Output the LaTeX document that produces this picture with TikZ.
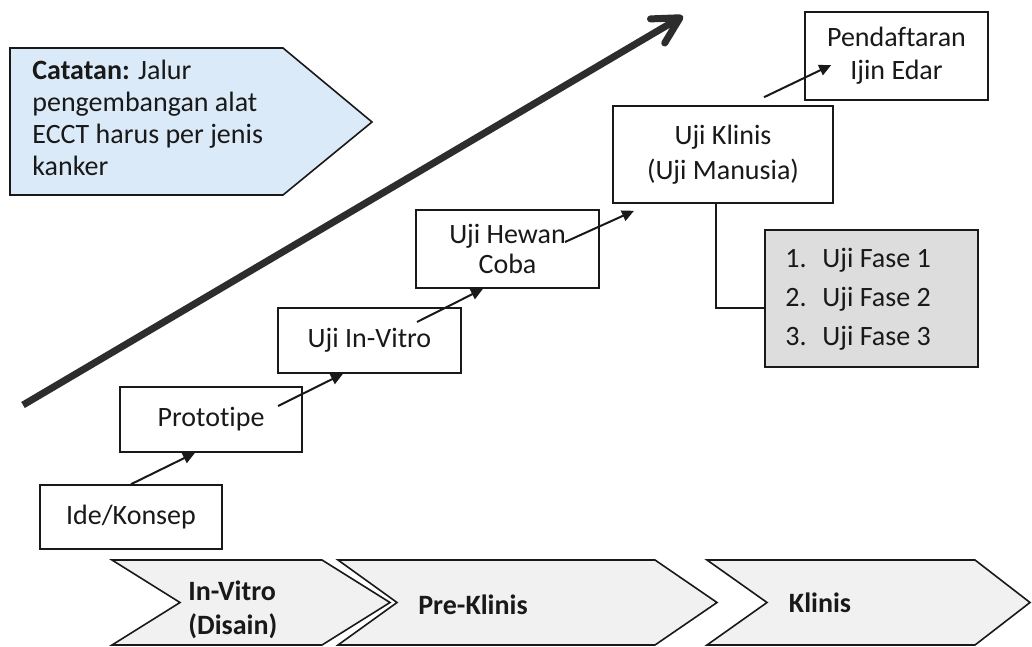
\documentclass[tikz,border=0pt]{standalone}
\usepackage{fontspec}
\setmainfont{Carlito}[Ligatures=NoCommon]
\usetikzlibrary{arrows.meta,calc}
\definecolor{notefill}{RGB}{219,234,248}
\definecolor{listfill}{RGB}{221,221,221}
\definecolor{chevfill}{RGB}{241,241,241}
\definecolor{ink}{RGB}{25,25,25}
\definecolor{trend}{RGB}{45,45,45}

\begin{document}
\begin{tikzpicture}[x=0.5pt,y=-0.5pt,
  every node/.style={font=\fontsize{14}{17}\selectfont, text=ink},
  stepbox/.style={draw=ink, line width=0.8pt, fill=white, align=center, inner sep=0pt},
  flow/.style={draw=ink, line width=1pt, -{Triangle[length=6pt,width=5.5pt]}},
  link/.style={draw=ink, line width=0.8pt},
  chevron/.style={draw=ink, line width=0.8pt, fill=chevfill, line join=miter},
  chevtext/.style={font=\fontsize{14}{17}\selectfont\bfseries, inner sep=0pt},
  trendline/.style={draw=trend, line width=3.5pt, -{Straight Barb[length=13pt,width=14pt,round]}}
]
\useasboundingbox (0,0) rectangle (1032,647);

% note callout
\filldraw[fill=notefill, draw=ink, line width=0.8pt]
  (10,48) -- (283,48) -- (372,122) -- (283,195) -- (10,195) -- cycle;
\node[anchor=north west, align=left, inner sep=0pt, font=\fontsize{14}{16}\selectfont]
  (note) at (32,60) {\textbf{Catatan:} Jalur\\pengembangan alat\\ECCT harus per jenis\\kanker};

% overall trend arrow
\coordinate (trendstart) at (23,405);
\coordinate (trendend) at (683,16);
\draw[trendline] (trendstart) -- (trendend);

% development steps
\node[stepbox, minimum width=91pt, minimum height=32pt] (ide) at (131,517) {Ide/Konsep};
\node[stepbox, minimum width=91pt, minimum height=32.5pt] (proto) at (211,419.5) {Prototipe};
\node[stepbox, minimum width=91.5pt, minimum height=32.5pt] (vitro) at (369.5,340.5) {Uji In-Vitro};
\node[stepbox, minimum width=91.5pt, minimum height=39pt, font=\fontsize{14}{15}\selectfont] (hewan) at (507.5,249) {Uji Hewan\\Coba};
\node[stepbox, minimum width=110pt, minimum height=48.5pt, font=\fontsize{14}{17.5}\selectfont] (klinis) at (723,154.5) {Uji Klinis\\(Uji Manusia)};
\node[stepbox, minimum width=91.5pt, minimum height=44pt, font=\fontsize{14}{16.5}\selectfont] (izin) at (896.5,56) {Pendaftaran\\Ijin Edar};
\node[stepbox, fill=listfill, minimum width=106.5pt, minimum height=68.5pt] (fase) at (871.5,298.5) {};
\node[anchor=west, inner sep=0pt] (faselist) at (785,298.5)
  {\renewcommand{\arraystretch}{1.15}%
   \begin{tabular}{@{}p{18.5pt}@{}l@{}}1.&Uji Fase 1\\2.&Uji Fase 2\\3.&Uji Fase 3\end{tabular}};

% step arrows
\draw[flow] (ide.north) -- ($(proto.south)+(-16,0)$);
\draw[flow] ($(proto.center)+(67,-13.5)$) -- ($(vitro.south)+(-26.5,0)$);
\draw[flow] ($(vitro.center)+(47.5,-18.5)$) -- ($(hewan.south)+(-24.5,0)$);
\draw[flow] ($(hewan.center)+(57.5,-7)$) -- ($(klinis.south)+(-89,7)$);
\draw[flow] ($(klinis.north)+(41,-8)$) -- ($(izin.west)+(27,9)$);

% clinical phases link
\draw[link] ($(klinis.south)+(-7,0)$) |- ($(fase.west)+(0,9.5)$);

% stage chevrons
\filldraw[chevron] (112,560) -- (322,560) -- (390,602.5) -- (322,645) -- (112,645) -- (180,602.5) -- cycle;
\filldraw[chevron] (338,560) -- (655,560) -- (717,602.5) -- (655,645) -- (338,645) -- (397,602.5) -- cycle;
\filldraw[chevron] (707,560) -- (975,560) -- (1030,602.5) -- (975,645) -- (707,645) -- (767,602.5) -- cycle;
\node[chevtext, align=left, anchor=west] (stage1) at (188,610) {In-Vitro\\(Disain)};
\node[chevtext] (stage2) at (473,605) {Pre-Klinis};
\node[chevtext] (stage3) at (820,603) {Klinis};
\end{tikzpicture}
\end{document}
